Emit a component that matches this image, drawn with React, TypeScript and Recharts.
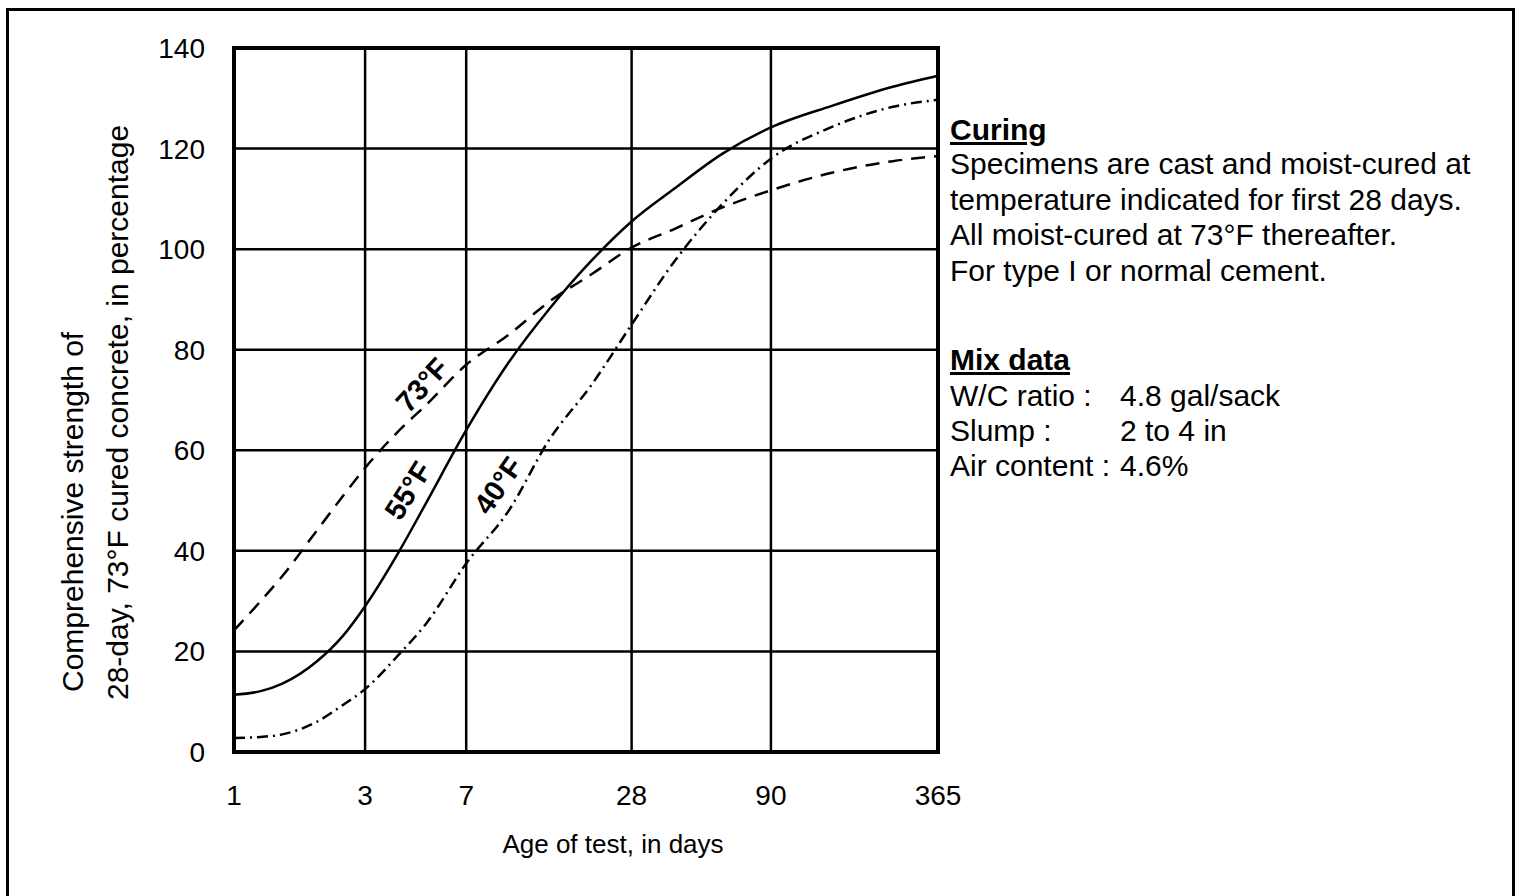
import React from "react";
import {
  LineChart,
  Line,
  XAxis,
  YAxis,
  CartesianGrid,
  ReferenceArea,
  ReferenceDot,
} from "recharts";

// Age of test, in days
const days = [1, 1.25, 1.5, 2, 2.5, 3, 4, 5, 7, 10, 14, 20, 28, 40, 60, 90, 150, 250, 365];
// Compressive strength (% of 28-day, 73°F cured concrete)
const temp73 = [24.2, 30, 35, 44, 51, 56.5, 64, 69, 77, 83, 89.5, 95, 100.3, 104, 108.3, 111.7, 115.2, 117.5, 118.5];
const temp55 = [11.4, 12.1, 13.6, 18, 23.2, 29, 40, 49.5, 64, 77.5, 88, 97.7, 105.5, 112, 119, 124.2, 128.5, 132.3, 134.5];
const temp40 = [2.8, 3.0, 3.5, 6, 9.4, 12.5, 19.5, 25.5, 37.5, 48, 62, 73, 85, 97.5, 109, 118, 124.3, 128.3, 129.7];

const xTicks = [1, 3, 7, 28, 90, 365];
const yTicks = [0, 20, 40, 60, 80, 100, 120, 140];

const curveLabels = [
  { text: "73°F", day: 4.84, value: 73, angle: -47 },
  { text: "55°F", day: 4.3, value: 52, angle: -58 },
  { text: "40°F", day: 9.15, value: 53, angle: -55 },
];

const yTitle = ["Comprehensive strength of", "28-day, 73°F cured concrete, in percentage"];
const xTitle = "Age of test, in days";
const curingHead = "Curing";
const curingLines = [
  "Specimens are cast and moist-cured at",
  "temperature indicated for first 28 days.",
  "All moist-cured at 73°F thereafter.",
  "For type I or normal cement.",
];
const mixHead = "Mix data";
const mixRows = [
  ["W/C ratio :", "4.8 gal/sack"],
  ["Slump :", "2 to 4 in"],
  ["Air content :", "4.6%"],
];

const data = days.map((d, i) => ({
  day: d,
  t73: temp73[i],
  t55: temp55[i],
  t40: temp40[i],
}));

const FONT = '"Liberation Sans", Arial, Helvetica, sans-serif';

const makeCurveLabel = (text: string, angle: number) => (props: any) => {
  const vb = props.viewBox || {};
  const cx = (vb.x ?? 0) + (vb.width ?? 0) / 2;
  const cy = (vb.y ?? 0) + (vb.height ?? 0) / 2;
  return (
    <text
      x={cx}
      y={cy}
      transform={`rotate(${angle} ${cx} ${cy})`}
      textAnchor="middle"
      dominantBaseline="central"
      fontFamily={FONT}
      fontWeight="bold"
      fontSize={29}
      fill="#000"
    >
      {text}
    </text>
  );
};

export default function App() {
  return (
    <div style={{ position: "absolute", left: 0, top: 0, width: 1523, height: 896, background: "#fff", overflow: "hidden" }}>
      <div
        style={{
          position: "absolute",
          left: 6,
          top: 8,
          width: 1509,
          height: 900,
          borderLeft: "3px solid #000",
          borderTop: "3px solid #000",
          borderRight: "3px solid #000",
          boxSizing: "border-box",
        }}
      />
      <div style={{ position: "absolute", left: 0, top: 0 }}>
        <LineChart
          width={1523}
          height={896}
          data={data}
          margin={{ top: 48, right: 585, bottom: 104, left: 154 }}
        >
          <CartesianGrid stroke="#000" strokeWidth={2.5} />
          <XAxis
            dataKey="day"
            type="number"
            scale="log"
            domain={[1, 365]}
            ticks={xTicks}
            height={40}
            axisLine={false}
            tickLine={false}
            tickSize={0}
            tickMargin={33}
            interval={0}
            tick={{ fill: "#000", fontSize: 28, fontFamily: FONT }}
          />
          <YAxis
            type="number"
            domain={[0, 140]}
            ticks={yTicks}
            width={80}
            axisLine={false}
            tickLine={false}
            tickSize={0}
            tickMargin={29}
            interval={0}
            tick={{ fill: "#000", fontSize: 28, fontFamily: FONT }}
          />
          <ReferenceArea
            x1={1}
            x2={365}
            y1={0}
            y2={140}
            fill="none"
            fillOpacity={0}
            stroke="#000"
            strokeWidth={4}
          />
          <Line
            dataKey="t73"
            type="monotone"
            stroke="#000"
            strokeWidth={2.5}
            strokeDasharray="14 9"
            dot={false}
            isAnimationActive={false}
          />
          <Line
            dataKey="t55"
            type="monotone"
            stroke="#000"
            strokeWidth={2.5}
            dot={false}
            isAnimationActive={false}
          />
          <Line
            dataKey="t40"
            type="monotone"
            stroke="#000"
            strokeWidth={2.5}
            strokeDasharray="11 5 2 5"
            dot={false}
            isAnimationActive={false}
          />
          {curveLabels.map((c) => (
            <ReferenceDot
              key={c.text}
              x={c.day}
              y={c.value}
              r={0}
              fill="none"
              stroke="none"
              label={makeCurveLabel(c.text, c.angle)}
            />
          ))}
        </LineChart>
      </div>
      <svg
        width={1523}
        height={896}
        style={{ position: "absolute", left: 0, top: 0, pointerEvents: "none" }}
        fontFamily={FONT}
        fill="#000"
      >
        <text x={83} y={692} fontSize={30} transform="rotate(-90 83 692)">
          {yTitle[0]}
        </text>
        <text x={128} y={700} fontSize={30} transform="rotate(-90 128 700)">
          {yTitle[1]}
        </text>
        <text x={613} y={853} fontSize={26} textAnchor="middle">
          {xTitle}
        </text>
        <text x={950} y={140} fontSize={30} fontWeight="bold" style={{ textDecoration: "underline" }}>
          {curingHead}
        </text>
        {curingLines.map((l, i) => (
          <text key={l} x={950} y={174 + i * 35.7} fontSize={30}>
            {l}
          </text>
        ))}
        <text x={950} y={370} fontSize={30} fontWeight="bold" style={{ textDecoration: "underline" }}>
          {mixHead}
        </text>
        {mixRows.map((r, i) => (
          <g key={r[0]}>
            <text x={950} y={406 + i * 35} fontSize={30}>
              {r[0]}
            </text>
            <text x={1120} y={406 + i * 35} fontSize={30}>
              {r[1]}
            </text>
          </g>
        ))}
      </svg>
    </div>
  );
}
